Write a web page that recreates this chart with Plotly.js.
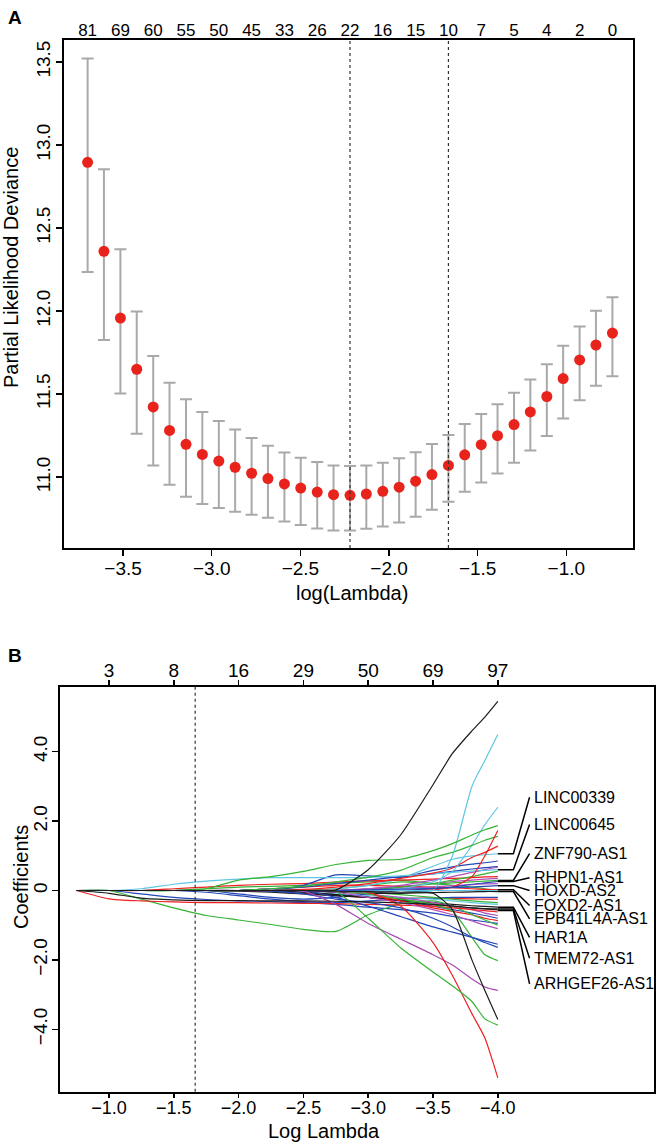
<!DOCTYPE html>
<html>
<head>
<meta charset="utf-8">
<script src="https://cdn.plot.ly/plotly-3.0.1.min.js"></script>
<style>
  body { margin: 0; background: #ffffff; }
  #figure { width: 661px; height: 1143px; }
</style>
</head>
<body>
<div id="figure"></div>
<script>
// ---- Panel A: cross-validation curve ----
const logLambdaA = [-3.700, -3.608, -3.515, -3.423, -3.330, -3.238, -3.145, -3.053, -2.960,
  -2.868, -2.775, -2.683, -2.590, -2.498, -2.405, -2.313, -2.220, -2.128, -2.035, -1.943,
  -1.850, -1.758, -1.665, -1.573, -1.480, -1.388, -1.295, -1.203, -1.110, -1.018, -0.925,
  -0.833, -0.740];
const cvMean = [12.896, 12.360, 11.958, 11.650, 11.423, 11.282, 11.198, 11.137, 11.097,
  11.060, 11.024, 10.992, 10.960, 10.935, 10.911, 10.895, 10.891, 10.899, 10.915, 10.940,
  10.976, 11.016, 11.071, 11.135, 11.196, 11.250, 11.317, 11.393, 11.486, 11.594, 11.706,
  11.796, 11.868];
const cvUpper = [13.520, 12.854, 12.372, 11.998, 11.730, 11.569, 11.470, 11.393, 11.339,
  11.288, 11.236, 11.190, 11.149, 11.117, 11.091, 11.071, 11.067, 11.071, 11.087, 11.115,
  11.151, 11.200, 11.254, 11.321, 11.381, 11.440, 11.508, 11.588, 11.680, 11.792, 11.908,
  12.002, 12.084];
const cvLower = [12.236, 11.826, 11.504, 11.262, 11.071, 10.954, 10.883, 10.839, 10.815,
  10.792, 10.774, 10.756, 10.734, 10.712, 10.692, 10.679, 10.679, 10.690, 10.704, 10.728,
  10.762, 10.804, 10.853, 10.913, 10.968, 11.022, 11.087, 11.161, 11.248, 11.354, 11.464,
  11.550, 11.608];
// number of non-zero coefficients, printed above every other lambda
const nzeroA = ["81", "69", "60", "55", "50", "45", "33", "26", "22", "16", "15", "10", "7", "5", "4", "2", "0"];
const lambdaMin = -2.22;
const lambda1se = -1.665;

// ---- Panel B: coefficient paths ----
const logLambdaB = [-0.75, -1.0, -1.25, -1.5, -1.75, -2.0, -2.25, -2.5, -2.75, -3.0, -3.25, -3.5, -3.65, -3.8, -3.9, -4.0];
const topTicksB = [-1.0, -1.5, -2.0, -2.5, -3.0, -3.5, -4.0];
const nzeroB = ["3", "8", "16", "29", "50", "69", "97"];

const pathColors = ["green", "red", "blue", "cyan", "magenta", "green", "blue", "red",
  "cyan", "magenta", "blue", "green", "red", "blue", "black", "black", "black", "magenta",
  "blue", "green", "red", "cyan", "blue", "green", "magenta", "red", "blue", "magenta",
  "green", "blue", "purple2", "red", "cyan", "green", "red", "red", "cyan", "cyan", "green",
  "green", "black", "black", "blue", "black"];
const coefPaths = [
  [0, 0, 0, 0, 0, 0, 0, 0, 0.05, 0.15, 0.25, 0.2, 0.15, 0.1, 0.05, 0.02],
  [0, 0, 0, 0, 0, 0, -0.02, -0.08, -0.15, -0.2, -0.22, -0.22, -0.23, -0.24, -0.25, -0.25],
  [0, 0, 0, 0, -0.05, -0.15, -0.25, -0.32, -0.35, -0.3, -0.25, -0.22, -0.2, -0.2, -0.2, -0.2],
  [0, 0, 0, 0, 0, 0, 0, -0.05, -0.1, -0.15, -0.2, -0.25, -0.3, -0.35, -0.38, -0.4],
  [0, 0, 0, 0, 0, 0, 0, 0, 0, 0.05, 0.12, 0.2, 0.26, 0.3, 0.33, 0.35],
  [0, 0, 0, 0, 0, 0, 0, 0, 0, -0.05, -0.12, -0.2, -0.25, -0.3, -0.33, -0.35],
  [0, 0, 0, 0, 0, 0, 0, -0.05, -0.12, -0.2, -0.3, -0.45, -0.55, -0.65, -0.72, -0.8],
  [0, 0, 0, 0, 0, 0, 0.05, 0.1, 0.15, 0.15, 0.12, 0.1, 0.08, 0.05, 0.03, 0.02],
  [0, 0, 0, 0, 0, 0, 0, 0, 0.05, 0.15, 0.35, 0.7, 0.9, 1.0, 1.03, 1.06],
  [0, 0, 0, 0, 0, 0, 0, 0, 0, 0.05, 0.08, 0.1, 0.14, 0.17, 0.19, 0.2],
  [0, 0, 0, 0, 0, -0.1, -0.2, -0.25, -0.2, -0.1, 0, 0.05, 0.08, 0.1, 0.12, 0.14],
  [0, 0, 0, 0, 0.05, 0.1, 0.12, 0.15, 0.2, 0.25, 0.3, 0.2, 0.22, 0.25, 0.27, 0.29],
  [0, 0, 0, 0.05, 0.1, 0.15, 0.18, 0.2, 0.24, 0.28, 0.3, 0.33, 0.35, 0.37, 0.39, 0.4],
  [0, 0, 0, 0, 0, 0, 0.05, 0.1, 0.2, 0.3, 0.4, 0.48, 0.55, 0.62, 0.66, 0.69],
  [0, 0, 0, 0, 0, 0, 0, -0.05, -0.12, -0.2, -0.28, -0.35, -0.4, -0.44, -0.46, -0.48],
  [0, 0, 0, 0, 0, -0.02, -0.05, -0.1, -0.15, -0.2, -0.3, -0.4, -0.45, -0.5, -0.52, -0.53],
  [0, 0, 0, 0, 0, 0, 0, 0, -0.05, -0.08, -0.08, -0.06, -0.05, -0.04, -0.03, -0.03],
  [0, 0, 0, 0, 0, 0, 0, 0, 0, 0.05, 0.15, 0.3, 0.4, 0.52, 0.6, 0.67],
  [0, 0, 0, 0, 0, 0, 0, 0.15, 0.45, 0.42, 0.38, 0.58, 0.68, 0.76, 0.8, 0.85],
  [0, 0, 0, 0, 0, 0, 0, 0, 0, 0, 0.1, 0.2, 0.3, 0.4, 0.48, 0.55],
  [0, 0, 0, 0, 0, 0, 0, 0, 0, -0.1, -0.3, -0.5, -0.6, -0.7, -0.8, -0.87],
  [0, 0, 0.05, 0.18, 0.27, 0.33, 0.37, 0.37, 0.37, 0.38, 0.42, 0.48, 0.52, 0.56, 0.58, 0.6],
  [0, 0, -0.1, -0.2, -0.26, -0.3, -0.32, -0.35, -0.4, -0.48, -0.55, -0.65, -0.75, -0.85, -0.9, -0.95],
  [0, 0, -0.25, -0.5, -0.72, -0.85, -0.98, -1.12, -1.18, -0.7, -0.38, -0.3, -0.45, -0.7, -0.85, -1.0],
  [0, 0, 0, 0, 0, 0, 0, 0, 0, -0.1, -0.2, -0.35, -0.45, -0.55, -0.65, -0.72],
  [0, -0.24, -0.3, -0.33, -0.35, -0.35, -0.36, -0.37, -0.38, -0.4, -0.42, -0.45, -0.5, -0.55, -0.58, -0.62],
  [0, 0, 0, 0, 0, 0, 0, 0, -0.2, -0.45, -0.75, -1.05, -1.2, -1.35, -1.45, -1.55],
  [0, 0, 0, 0, 0, 0, 0, 0, -0.05, -0.2, -0.35, -0.55, -0.7, -0.88, -1.0, -1.1],
  [0, 0, 0, 0, 0, 0, 0, 0, 0, -0.1, -0.25, -0.4, -0.6, -1.35, -1.85, -2.02],
  [0, 0, 0, 0, 0, 0, -0.02, -0.1, -0.25, -0.35, -0.5, -0.8, -1.05, -1.35, -1.5, -1.64],
  [0, 0, 0, 0, 0, 0, 0, -0.02, -0.4, -0.95, -1.4, -1.85, -2.15, -2.55, -2.78, -2.88],
  [0, 0, 0, 0, 0, 0, 0, 0.03, 0.1, 0.2, 0.35, 0.5, 0.65, 0.95, 1.1, 1.28],
  [0, 0, 0, 0, 0, 0, 0, 0, 0, 0, 0.05, 0.25, 0.55, 1.3, 1.9, 2.4],
  [0, 0, 0, 0, 0, 0, 0.05, 0.12, 0.25, 0.38, 0.58, 0.95, 1.1, 1.3, 1.45, 1.56],
  [0, 0, 0, 0, 0, 0, 0, 0, 0, 0, 0, 0.02, 0.1, 0.4, 1.0, 1.73],
  [0, 0, 0, 0, 0, 0, 0, 0, 0, -0.05, -0.45, -1.5, -2.45, -3.55, -4.25, -5.4],
  [0, 0, 0, 0, 0, 0, 0, 0, 0, 0, 0, 0, 1.0, 3.0, 3.75, 4.5],
  [0, 0, 0, 0, 0, 0, 0, 0, 0, 0, 0, 0, 0, 0, 0, 0],
  [0, 0, 0, 0, 0.05, 0.3, 0.4, 0.55, 0.75, 0.87, 0.9, 1.15, 1.35, 1.6, 1.75, 1.87],
  [0, 0, 0, 0, 0, 0, 0, 0, -0.03, -0.8, -1.65, -2.35, -2.75, -3.2, -3.7, -3.88],
  [0, 0, 0, 0, 0, 0, 0, 0, -0.02, -0.03, -0.05, -0.08, -0.55, -2.0, -2.88, -3.72],
  [0, -0.08, -0.22, -0.27, -0.29, -0.29, -0.3, -0.3, -0.31, -0.33, -0.36, -0.4, -0.45, -0.5, -0.53, -0.56],
  [0, 0, 0, 0, 0, 0, 0, 0, 0, 0.02, 0.04, 0.06, 0.1, 0.18, 0.22, 0.26],
  [0, 0, 0, 0, 0, 0, 0, 0, 0.02, 0.6, 1.6, 3.05, 3.95, 4.6, 5.0, 5.45]
];

// labelled genes: coefficient at the end of the path, and where the label sits
const geneNames = ["LINC00339", "LINC00645", "ZNF790-AS1", "RHPN1-AS1", "HOXD-AS2",
  "FOXD2-AS1", "EPB41L4A-AS1", "HAR1A", "TMEM72-AS1", "ARHGEF26-AS1"];
const geneCoef = [1.06, 0.60, 0.29, 0.26, 0.14, 0.02, -0.03, -0.48, -0.53, -0.58];
const geneLabelY = [2.69, 1.90, 1.06, 0.37, 0.0, -0.43, -0.82, -1.35, -1.95, -2.69];

const palette = {
  black: "#1c1c1c", red: "#ee2020", green: "#36b336", blue: "#2446b6",
  cyan: "#5ec6e4", magenta: "#b24fba", purple2: "#a64caf"
};
const font = "Liberation Sans, Arial, sans-serif";

var traces = [];

// CV error bars and means
traces.push({
  x: logLambdaA,
  y: cvMean,
  type: "scatter",
  mode: "markers",
  xaxis: "x", yaxis: "y",
  marker: { color: "#e8231c", size: 11 },
  error_y: {
    type: "data",
    array: cvUpper.map((u, i) => u - cvMean[i]),
    arrayminus: cvLower.map((l, i) => cvMean[i] - l),
    color: "#a9a9a9",
    thickness: 2,
    width: 6
  },
  hoverinfo: "skip"
});
// empty traces so the top axes get drawn
traces.push({ x: [], y: [], type: "scatter", xaxis: "x3", yaxis: "y" });
traces.push({ x: [], y: [], type: "scatter", xaxis: "x4", yaxis: "y2" });

coefPaths.forEach(function(path, i) {
  traces.push({
    x: logLambdaB,
    y: path,
    type: "scatter",
    mode: "lines",
    xaxis: "x2", yaxis: "y2",
    line: { color: palette[pathColors[i]], width: 1.2, shape: "spline", smoothing: 0.6 },
    hoverinfo: "skip"
  });
});

// leader lines from path ends to gene labels
geneNames.forEach(function(name, i) {
  traces.push({
    x: [-4.0, -4.12, -4.245],
    y: [geneCoef[i], geneCoef[i], geneLabelY[i]],
    type: "scatter",
    mode: "lines",
    xaxis: "x2", yaxis: "y2",
    line: { color: "#000000", width: 1.5 },
    hoverinfo: "skip"
  });
});

// text placed in pixels of the 661x1143 page
function paperText(text, px, py, size, angle) {
  return {
    text: text, xref: "paper", yref: "paper",
    x: px / 661, y: 1 - py / 1143,
    xanchor: "center", yanchor: "middle",
    textangle: angle || 0, showarrow: false,
    font: { family: font, size: size, color: "#000" }
  };
}

var annotations = [
  paperText("<b>A</b>", 15, 18, 19),
  paperText("<b>B</b>", 15, 655, 19),
  paperText("log(Lambda)", 352, 593, 20),
  paperText("Log Lambda", 324, 1131, 20),
  paperText("Partial Likelihood Deviance", 11, 268, 20, -90),
  paperText("Coefficients", 21, 877, 20, -90)
];

geneNames.forEach(function(name, i) {
  annotations.push({
    text: name, xref: "x2", yref: "y2", x: -4.26, y: geneLabelY[i],
    xanchor: "left", yanchor: "middle", showarrow: false,
    font: { family: font, size: 16, color: "#000" }
  });
});

var shapes = [lambdaMin, lambda1se].map(v => ({
  type: "line", xref: "x", yref: "y domain", x0: v, x1: v, y0: 0, y1: 1,
  line: { color: "#333", width: 1.2, dash: "dot" }
}));
shapes.push({
  type: "line", xref: "x2", yref: "y2 domain", x0: lambda1se, x1: lambda1se, y0: 0, y1: 1,
  line: { color: "#333", width: 1.2, dash: "dot" }
});

const axisBase = {
  showline: true, linecolor: "#000", linewidth: 2, mirror: true,
  ticks: "outside", ticklen: 6, tickwidth: 1.5, tickcolor: "#000",
  showgrid: false, zeroline: false,
  tickfont: { family: font, size: 19, color: "#000" }
};

var layout = {
  width: 661, height: 1143,
  margin: { l: 0, r: 0, t: 0, b: 0 },
  paper_bgcolor: "#fff", plot_bgcolor: "#fff",
  showlegend: false,
  xaxis: Object.assign({}, axisBase, {
    domain: [63.5 / 661, 633 / 661], anchor: "y",
    range: [-3.836, -0.624],
    tickvals: [-3.5, -3.0, -2.5, -2.0, -1.5, -1.0], tickformat: ".1f",
    ticklabelstandoff: -4
  }),
  yaxis: Object.assign({}, axisBase, {
    domain: [1 - 548 / 1143, 1 - 40 / 1143], anchor: "x",
    range: [10.574, 13.632],
    tickvals: [11.0, 11.5, 12.0, 12.5, 13.0, 13.5], tickformat: ".1f",
    tickangle: -90, ticklabelstandoff: -2
  }),
  xaxis3: {
    overlaying: "x", anchor: "y", side: "top",
    range: [-3.836, -0.624],
    tickvals: logLambdaA.filter((v, i) => i % 2 === 0),
    ticktext: nzeroA,
    ticks: "", showline: false, showgrid: false, zeroline: false,
    tickfont: { family: font, size: 17, color: "#000" }
  },
  xaxis2: Object.assign({}, axisBase, {
    domain: [60 / 661, 654 / 661], anchor: "y2",
    range: [-0.622, -5.205],
    tickvals: topTicksB, tickformat: ".1f",
    ticklen: 4, ticklabelstandoff: -5,
    tickfont: { family: font, size: 18, color: "#000" }
  }),
  yaxis2: Object.assign({}, axisBase, {
    domain: [1 - 1091.7 / 1143, 1 - 686.7 / 1143], anchor: "x2",
    range: [-5.8, 5.875],
    tickvals: [-4, -2, 0, 2, 4],
    ticktext: ["\u22124.0", "\u22122.0", "0", "2.0", "4.0"],
    tickangle: -90, ticklabelstandoff: -3
  }),
  xaxis4: {
    overlaying: "x2", anchor: "y2", side: "top",
    range: [-0.622, -5.205],
    tickvals: topTicksB, ticktext: nzeroB,
    ticks: "outside", ticklen: 6, tickwidth: 1.5, tickcolor: "#000",
    showline: false, showgrid: false, zeroline: false, ticklabelstandoff: -5,
    tickfont: { family: font, size: 19, color: "#000" }
  },
  annotations: annotations,
  shapes: shapes
};

Plotly.newPlot(document.getElementById("figure"), traces, layout, { staticPlot: true });
</script>
</body>
</html>
